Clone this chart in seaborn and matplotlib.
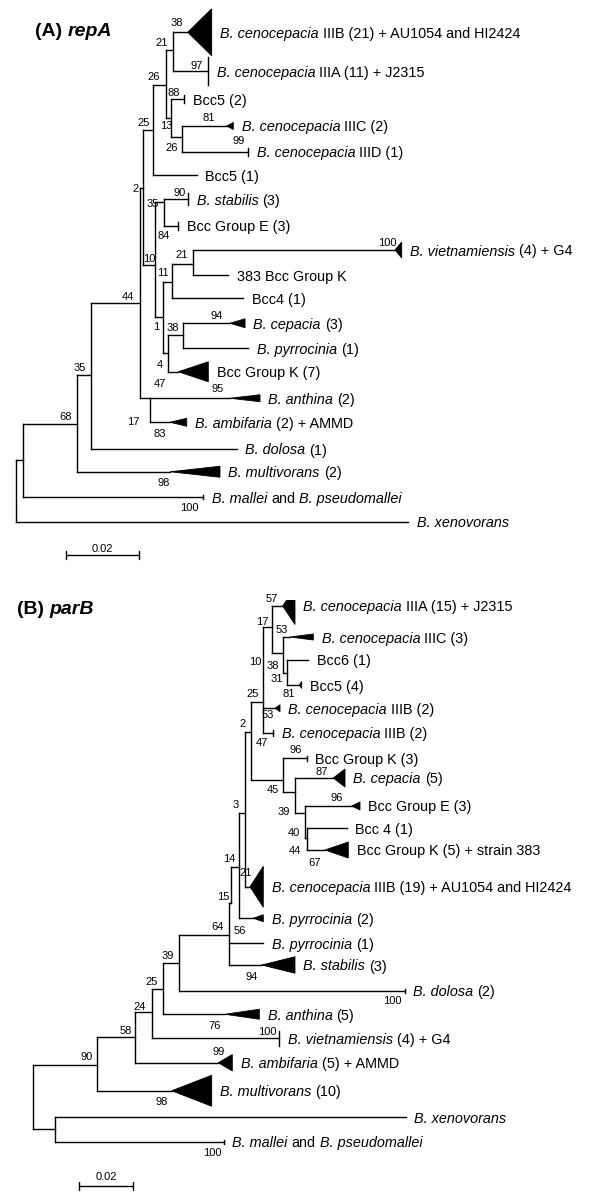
import matplotlib
matplotlib.use("Agg")
import matplotlib.pyplot as plt
from matplotlib.collections import LineCollection
from matplotlib.patches import Polygon
import seaborn as sns

sns.set_theme(style="white")
plt.rcParams['font.family'] = ['Liberation Sans', 'DejaVu Sans']
plt.rcParams['text.color'] = 'black'

# ---------------- (A) repA ----------------
a_node = ["root", "n1", "n68", "n35", "n44", "n2", "n25", "n26a", "n21", "n13",
          "n26b", "n10", "n35b", "n1b", "n11", "n21b", "n4", "n38", "n17"]
a_parent = [None, "root", "n1", "n68", "n35", "n44", "n2", "n25", "n26a", "n26a",
            "n13", "n2", "n10", "n10", "n1b", "n11", "n1b", "n4", "n44"]
a_depth = [0, 0.00207, 0.01664, 0.02046, 0.03392, 0.03482, 0.03754, 0.04093, 0.04300, 0.04229,
           0.04529, 0.03801, 0.04055, 0.04027, 0.04256, 0.04829, 0.04164, 0.04573, 0.03664]
a_row = [18.40, 18.40, 16.97, 15.01, 12.13, 7.52, 5.20, 3.40, 2.00, 4.73,
         5.47, 10.60, 8.07, 12.67, 11.27, 10.57, 14.13, 13.40, 15.93]

a_leaf_parent = ["n21", "n21", "n13", "n26b", "n26b", "n25", "n35b", "n35b", "n21b", "n21b",
                 "n11", "n38", "n38", "n4", "n17", "n17", "n35", "n68", "n1", "root"]
a_leaf_tip = [0.04693, 0.05255, 0.04600, 0.05757, 0.06347, 0.04939, 0.04709, 0.04437, 0.10349, 0.05801,
              0.06210, 0.05847, 0.06347, 0.04437, 0.05847, 0.04210, 0.06030, 0.04210, 0.05119, 0.10712]
a_leaf_end = [0.05348, 0.05255, 0.04600, 0.05937, 0.06347, 0.04939, 0.04709, 0.04437, 0.10532, 0.05801,
              0.06210, 0.06257, 0.06347, 0.05255, 0.06666, 0.04666, 0.06030, 0.05574, 0.05119, 0.10712]
a_leaf_row = [1.29, 2.84, 3.97, 5.04, 6.07, 7.00, 7.97, 9.04, 10.00, 11.00,
              11.93, 12.93, 13.93, 14.87, 15.93, 16.89, 17.96, 18.87, 19.89, 20.87]
a_leaf_half = [0.94, 0.56, 0.16, 0.14, 0.16, 0, 0.24, 0.16, 0.32, 0,
               0, 0.18, 0, 0.40, 0.14, 0.16, 0, 0.22, 0.08, 0]
# *...* marks the italic part of a label
a_leaf_label = [
    "*B. cenocepacia* IIIB (21) + AU1054 and HI2424",
    "*B. cenocepacia* IIIA (11) + J2315",
    "Bcc5 (2)",
    "*B. cenocepacia* IIIC (2)",
    "*B. cenocepacia* IIID (1)",
    "Bcc5 (1)",
    "*B. stabilis* (3)",
    "Bcc Group E (3)",
    "*B. vietnamiensis* (4) + G4",
    "383 Bcc Group K",
    "Bcc4 (1)",
    "*B. cepacia* (3)",
    "*B. pyrrocinia* (1)",
    "Bcc Group K (7)",
    "*B. anthina* (2)",
    "*B. ambifaria* (2) + AMMD",
    "*B. dolosa* (1)",
    "*B. multivorans* (2)",
    "*B. mallei* and *B. pseudomallei*",
    "*B. xenovorans*",
]
a_boot = ["38", "97", "21", "26", "88", "81", "99", "13", "26", "25", "2", "90", "35", "84", "10", "21",
          "100", "11", "94", "38", "1", "4", "47", "95", "17", "83", "44", "35", "68", "98", "100"]
# where each bootstrap value sits in the picture (pixels)
a_boot_px = [177, 197, 162, 154, 174, 209, 239, 166, 172, 144, 136, 180, 153, 164, 149, 182,
             387, 163, 217, 173, 156, 160, 160, 218, 133, 160, 128, 80, 66, 164, 189]
a_boot_py = [23, 66, 43, 77, 93, 118, 141, 126, 148, 123, 189, 193, 204, 236, 259, 255,
             243, 273, 316, 328, 327, 365, 384, 389, 422, 434, 297, 368, 417, 483, 508]

# ---------------- (B) parB ----------------
b_node = ["root", "nX", "n90", "n58", "n24", "n25b", "n39", "n64", "n15", "n3",
          "n2b", "n25c", "n10b", "n17b", "n53", "n31", "n45", "n39c", "n40", "n44b"]
b_parent = [None, "root", "root", "n90", "n58", "n24", "n25b", "n39", "n64", "n15",
            "n3", "n2b", "n25c", "n10b", "n17b", "n53", "n25c", "n45", "n39c", "n40"]
b_depth = [0, 0.00821, 0.02357, 0.03768, 0.04383, 0.04788, 0.05400, 0.07241, 0.07293, 0.07610,
           0.07819, 0.08040, 0.08493, 0.08803, 0.09230, 0.09355, 0.09230, 0.09643, 0.10029, 0.10092]
b_row = [18.60, 21.17, 18.60, 17.49, 16.47, 15.57, 14.51, 13.40, 12.13, 10.69,
         8.51, 5.27, 4.07, 1.07, 2.13, 2.92, 7.20, 7.67, 8.53, 9.52]

b_leaf_parent = ["n17b", "n53", "n31", "n31", "n10b", "n10b", "n45", "n39c", "n40", "n44b", "n44b",
                 "n2b", "n3", "n64", "n64", "n39", "n25b", "n24", "n58", "n90", "nX", "nX"]
b_leaf_tip = [0.09208, 0.09477, 0.10151, 0.09819, 0.08924, 0.08862, 0.10092, 0.11072, 0.11749, 0.11565, 0.10766,
              0.08004, 0.08125, 0.08493, 0.08435, 0.13713, 0.07083, 0.09083, 0.06836, 0.05120, 0.13750, 0.07046]
b_leaf_end = [0.09661, 0.10335, 0.10151, 0.09908, 0.09109, 0.08862, 0.10092, 0.11503, 0.12055, 0.11565, 0.11624,
              0.08493, 0.08493, 0.08493, 0.09661, 0.13713, 0.08346, 0.09083, 0.07352, 0.06593, 0.13750, 0.07046]
b_leaf_row = [0.24, 1.48, 2.40, 3.40, 4.33, 5.31, 6.33, 7.12, 8.24, 9.13, 10.00,
              11.47, 12.73, 13.73, 14.60, 15.63, 16.57, 17.53, 18.51, 19.63, 20.69, 21.67]
b_leaf_half = [0.74, 0.12, 0, 0.14, 0.14, 0.12, 0.10, 0.36, 0.16, 0, 0.32,
               0.82, 0.14, 0, 0.33, 0.08, 0.20, 0.30, 0.33, 0.62, 0, 0.08]
b_leaf_label = [
    "*B. cenocepacia* IIIA (15) + J2315",
    "*B. cenocepacia* IIIC (3)",
    "Bcc6 (1)",
    "Bcc5 (4)",
    "*B. cenocepacia* IIIB (2)",
    "*B. cenocepacia* IIIB (2)",
    "Bcc Group K (3)",
    "*B. cepacia* (5)",
    "Bcc Group E (3)",
    "Bcc 4 (1)",
    "Bcc Group K (5) + strain 383",
    "*B. cenocepacia* IIIB (19) + AU1054 and HI2424",
    "*B. pyrrocinia* (2)",
    "*B. pyrrocinia* (1)",
    "*B. stabilis* (3)",
    "*B. dolosa* (2)",
    "*B. anthina* (5)",
    "*B. vietnamiensis* (4) + G4",
    "*B. ambifaria* (5) + AMMD",
    "*B. multivorans* (10)",
    "*B. xenovorans*",
    "*B. mallei* and *B. pseudomallei*",
]
b_boot = ["57", "17", "53", "10", "38", "31", "81", "25", "53", "2", "47", "96", "87", "45", "96", "39",
          "3", "40", "44", "67", "14", "21", "15", "64", "56", "94", "39", "100", "25", "76", "24", "100",
          "58", "99", "90", "98", "100"]
b_boot_px = [272, 262, 282, 255, 273, 277, 289, 253, 268, 243, 262, 296, 322, 273, 337, 284,
             236, 294, 295, 315, 229, 246, 223, 218, 240, 252, 168, 392, 152, 215, 140, 267,
             126, 219, 87, 162, 212]
b_boot_py = [599, 622, 630, 662, 666, 679, 694, 694, 715, 724, 743, 750, 772, 790, 798, 812,
             805, 833, 851, 863, 859, 873, 897, 927, 931, 977, 956, 1001, 982, 1026, 1007, 1032,
             1031, 1052, 1057, 1102, 1153]

ROW_PX = 25.0
LEAF_SIZE = 10.4
BOOT_SIZE = 8.0


def rich_text(ax, xy, label, size, weight="normal", start_offset=0.0, va="center_baseline"):
    # label pieces alternate upright / italic, separated by '*'
    parts = label.split("*")
    prev = None
    pending_gap = 0.0
    space = 0.278 * size
    for i, part in enumerate(parts):
        if part == "":
            continue
        gap = pending_gap + (space if part.startswith(" ") else 0.0)
        pending_gap = space if part.endswith(" ") else 0.0
        txt = part.strip()
        style = "italic" if i % 2 == 1 else "normal"
        if prev is None:
            prev = ax.annotate(txt, xy, xytext=(start_offset, 0), textcoords="offset points",
                               ha="left", va=va, fontsize=size, fontstyle=style, fontweight=weight)
        else:
            prev = ax.annotate(txt, (1, xy[1]), xycoords=(prev, "data"), xytext=(gap, 0),
                               textcoords="offset points", ha="left", va=va,
                               fontsize=size, fontstyle=style, fontweight=weight)


def draw_tree(ax, node, parent, depth, row, lparent, tip, end, lrow, half, labels):
    pos = {n: (d, r) for n, d, r in zip(node, depth, row)}
    kids = {n: [] for n in node}
    segs = []
    for n, p in zip(node, parent):
        if p is None:
            continue
        kids[p].append(pos[n][1])
        segs.append([(pos[p][0], pos[n][1]), (pos[n][0], pos[n][1])])
    for p, t, e, r, h, lab in zip(lparent, tip, end, lrow, half, labels):
        kids[p].append(r)
        segs.append([(pos[p][0], r), (t, r)])
        if e > t:
            ax.add_patch(Polygon([(t, r), (e, r - h), (e, r + h)], closed=True,
                                 facecolor="black", edgecolor="black", lw=0.6))
        elif h > 0:
            segs.append([(t, r - h), (t, r + h)])
        rich_text(ax, (e, r), lab, LEAF_SIZE, start_offset=6)
    for n in node:
        ys = kids[n] + [pos[n][1]]
        segs.append([(pos[n][0], min(ys)), (pos[n][0], max(ys))])
    ax.add_collection(LineCollection(segs, colors="black", linewidths=1.0, capstyle="projecting"))


def scale_bar(ax, x0, r, lift):
    ax.plot([x0, x0 + 0.02], [r, r], color="black", lw=1.0)
    for xx in (x0, x0 + 0.02):
        ax.plot([xx, xx], [r - 0.15, r + 0.15], color="black", lw=1.0)
    ax.text(x0 + 0.01, r - lift, "0.02", ha="center", va="baseline", fontsize=BOOT_SIZE)


fig = plt.figure(figsize=(6, 12), dpi=100)

panels = [
    dict(rect=[0, 0.5, 1, 0.5], root_px=15.7, px_per_unit=73.3 / 0.02, top_px=0,
         tree=(a_node, a_parent, a_depth, a_row, a_leaf_parent, a_leaf_tip, a_leaf_end,
               a_leaf_row, a_leaf_half, a_leaf_label),
         boot=(a_boot, a_boot_px, a_boot_py), bar=(65.7, 555, 2.5), title=("(A) *repA*", 35, 32)),
    dict(rect=[0, 0, 1, 0.5], root_px=32.7, px_per_unit=54.3 / 0.02, top_px=600,
         tree=(b_node, b_parent, b_depth, b_row, b_leaf_parent, b_leaf_tip, b_leaf_end,
               b_leaf_row, b_leaf_half, b_leaf_label),
         boot=(b_boot, b_boot_px, b_boot_py), bar=(79, 1186, 5.5), title=("(B) *parB*", 17, 610)),
]

for pnl in panels:
    ax = fig.add_axes(pnl["rect"])
    k = pnl["px_per_unit"]
    x_of = lambda px, pnl=pnl, k=k: (px - pnl["root_px"]) / k
    r_of = lambda py, pnl=pnl: (py - pnl["top_px"]) / ROW_PX
    ax.set_xlim(x_of(0), x_of(600))
    ax.set_ylim(r_of(pnl["top_px"] + 600), r_of(pnl["top_px"]))
    ax.axis("off")

    draw_tree(ax, *pnl["tree"])

    for s, px, py in zip(*pnl["boot"]):
        ax.text(x_of(px), r_of(py), s, ha="center", va="center", fontsize=BOOT_SIZE)

    bx, by, lift = pnl["bar"]
    scale_bar(ax, x_of(bx), r_of(by), lift / ROW_PX)

    title, tx, ty = pnl["title"]
    rich_text(ax, (x_of(tx), r_of(ty)), title, 14, weight="bold", va="center")

fig.savefig("out.png", dpi=100)
